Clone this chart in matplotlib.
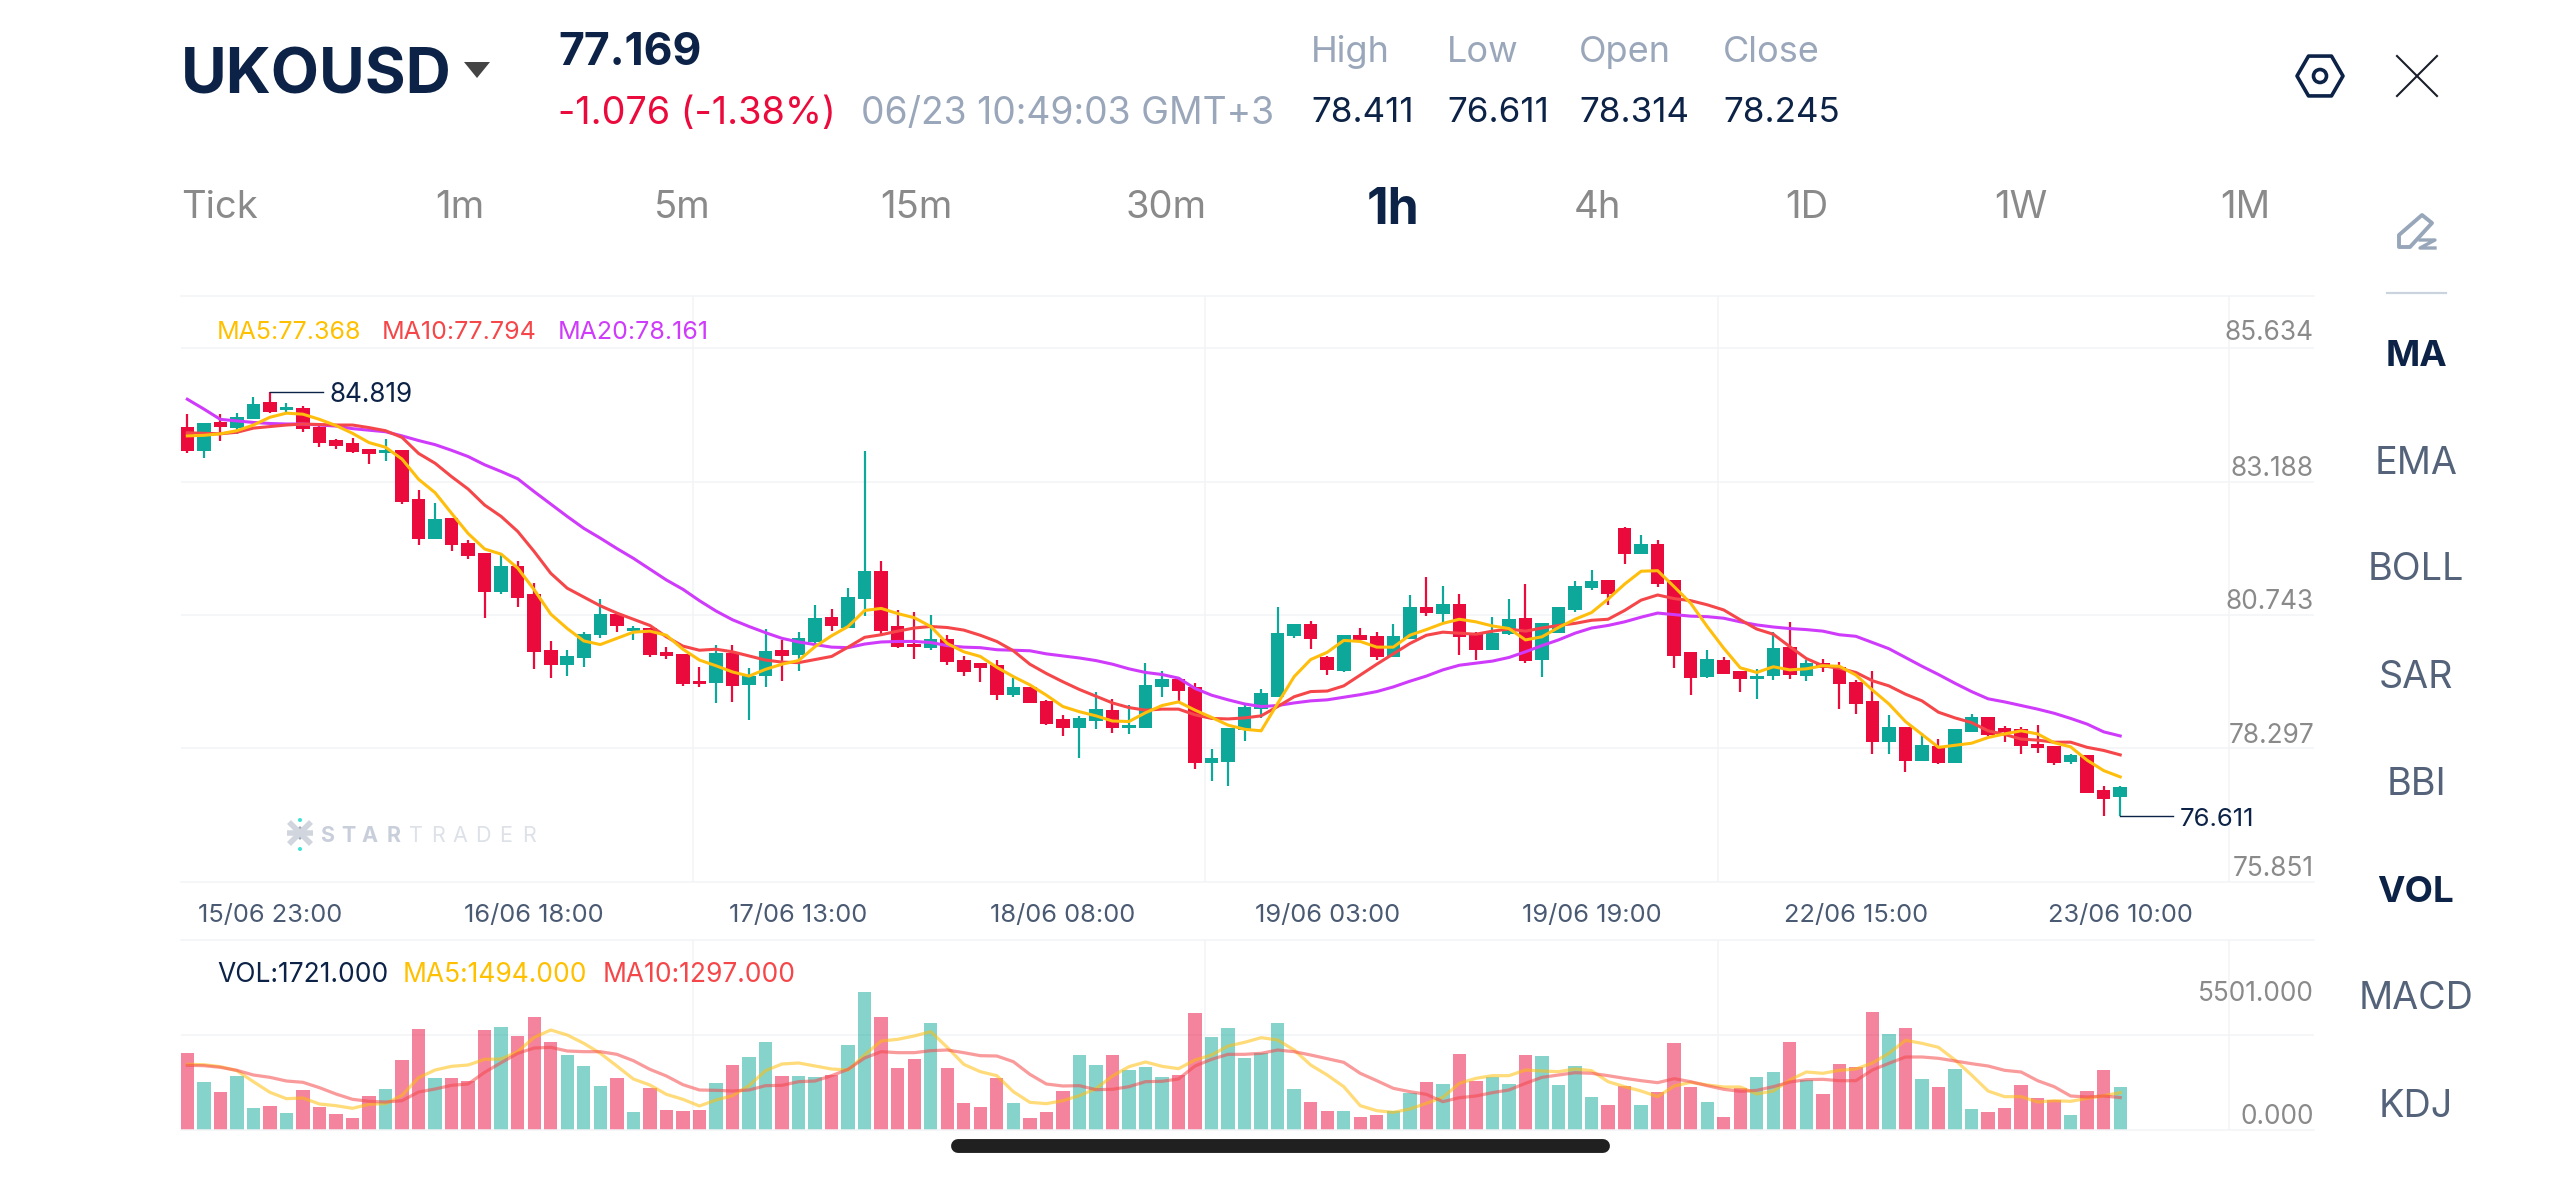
import numpy as np
import matplotlib
matplotlib.use("Agg")
import matplotlib.pyplot as plt
from matplotlib.patches import Polygon, RegularPolygon, Circle

plt.rcParams['font.family'] = ['Inter', 'DejaVu Sans']

opens = [84.15,83.68,84.23,84.13,84.30,84.62,84.48,84.51,84.15,83.89,83.83,83.71,83.64,83.69,82.74,81.97,82.38,81.89,81.70,80.95,
         81.46,80.90,79.83,79.54,79.67,80.11,80.52,80.20,80.26,79.79,79.75,79.23,79.18,79.77,79.15,79.32,79.82,79.72,79.97,80.46,
         80.26,80.82,81.36,80.28,79.94,79.86,80.04,79.63,79.57,79.53,78.96,79.11,78.84,78.48,78.32,78.45,78.66,78.32,78.31,79.10,
         79.27,79.11,77.63,77.66,78.28,78.69,78.92,80.10,80.32,79.69,79.42,80.12,80.09,79.68,80.04,80.66,80.52,80.71,80.13,79.82,
         80.13,80.44,79.63,80.15,80.59,81.03,81.18,82.19,81.69,81.88,81.18,79.78,79.30,79.64,79.41,79.26,79.32,79.88,79.33,79.57,
         79.50,79.21,78.83,78.05,78.34,77.68,77.97,77.63,78.24,78.52,78.31,78.29,78.00,77.97,77.66,77.80,77.11,76.97]
highs = [84.39,84.21,84.39,84.41,84.73,84.819,84.61,84.55,84.18,83.90,83.92,83.71,83.91,83.69,82.92,82.68,82.38,81.95,81.70,81.70,
         81.55,81.13,79.99,79.83,80.18,80.82,80.52,80.28,80.26,79.89,79.75,79.49,79.92,79.92,79.47,80.23,80.01,80.17,80.70,80.62,
         81.02,83.68,81.55,80.60,80.57,80.50,80.11,79.71,79.57,79.63,79.29,79.11,78.86,78.56,78.55,79.02,78.87,78.76,79.58,79.41,
         79.31,79.18,77.91,78.31,78.76,79.06,80.65,80.32,80.39,79.70,80.12,80.26,80.17,80.33,80.89,81.24,81.06,80.90,80.17,80.46,
         80.81,81.10,80.34,80.66,81.17,81.37,81.18,82.20,82.05,81.95,81.18,79.78,79.82,79.68,79.42,79.46,80.18,80.37,79.63,79.66,
         79.59,79.24,79.41,78.57,78.34,78.22,78.11,78.30,78.59,78.52,78.35,78.33,78.38,77.97,77.82,77.80,77.19,77.20]
lows = [83.63,83.55,83.87,84.00,84.30,84.42,84.42,84.04,83.76,83.72,83.64,83.42,83.48,82.66,81.85,81.97,81.74,81.58,80.44,80.91,
        80.65,79.46,79.28,79.32,79.49,80.06,80.17,80.02,79.68,79.66,79.13,79.10,78.79,78.82,78.47,79.10,79.23,79.42,79.95,80.19,
        80.26,80.49,80.13,79.86,79.66,79.83,79.53,79.33,79.21,78.86,78.91,78.79,78.38,78.16,77.73,78.29,78.22,78.19,78.31,78.91,
        78.84,77.53,77.29,77.19,78.07,78.50,78.92,80.06,79.84,79.34,79.39,80.01,79.63,79.68,80.04,80.48,80.36,79.73,79.64,79.82,
        80.12,79.57,79.30,80.15,80.57,80.99,80.69,81.49,81.68,81.04,79.48,78.95,79.28,79.36,79.02,78.87,79.24,79.26,79.22,79.39,
        78.68,78.59,77.82,77.81,77.47,77.68,77.62,77.63,78.24,78.16,78.05,77.82,77.84,77.60,77.62,77.05,76.62,76.611]
closes = [83.68,84.21,84.15,84.34,84.59,84.43,84.53,84.10,83.83,83.77,83.66,83.62,83.70,82.69,81.97,82.37,81.86,81.64,80.94,81.46,
          80.84,79.79,79.54,79.70,80.13,80.52,80.29,80.26,79.73,79.70,79.17,79.17,79.77,79.13,79.32,79.81,79.71,80.06,80.45,80.28,
          80.86,81.35,80.20,79.88,79.88,80.03,79.60,79.39,79.48,78.95,79.10,78.79,78.39,78.31,78.50,78.68,78.31,78.37,79.14,79.26,
          79.03,77.63,77.73,78.31,78.73,78.99,80.15,80.32,80.03,79.44,80.12,80.01,79.68,80.09,80.66,80.55,80.71,80.08,79.82,80.15,
          80.43,79.61,80.34,80.66,81.07,81.16,80.91,81.69,81.87,81.10,79.71,79.29,79.65,79.36,79.26,79.33,79.86,79.34,79.58,79.47,
          79.17,78.78,78.04,78.34,77.68,77.99,77.63,78.29,78.53,78.18,78.23,77.97,77.93,77.64,77.80,77.06,76.94,77.169]

ma5 = [83.97,83.98,84.01,84.07,84.18,84.33,84.41,84.39,84.29,84.17,84.02,83.84,83.75,83.52,83.13,82.87,82.47,82.08,81.78,81.68,
       81.41,80.99,80.52,80.24,80.00,79.93,80.05,80.17,80.19,80.11,79.84,79.63,79.52,79.40,79.32,79.45,79.55,79.62,79.89,80.10,
       80.28,80.59,80.63,80.53,80.45,80.28,79.95,79.79,79.70,79.49,79.31,79.15,78.95,78.73,78.63,78.55,78.45,78.44,78.61,78.75,
       78.82,78.66,78.52,78.37,78.29,78.26,78.79,79.31,79.64,79.78,80.01,79.99,79.88,79.88,80.11,80.22,80.34,80.42,80.37,80.29,
       80.24,80.02,80.08,80.26,80.42,80.55,80.81,81.10,81.35,81.36,81.05,80.73,80.28,79.86,79.48,79.39,79.50,79.44,79.46,79.52,
       79.51,79.34,79.05,78.78,78.44,78.19,77.94,77.98,78.02,78.13,78.20,78.26,78.20,78.03,77.95,77.69,77.49,77.368]
ma10 = [84.03,84.02,84.01,84.04,84.12,84.15,84.18,84.20,84.19,84.18,84.18,84.13,84.07,83.94,83.63,83.44,83.18,82.94,82.63,82.41,
        82.12,81.73,81.31,81.02,80.85,80.68,80.54,80.42,80.30,80.08,79.90,79.82,79.84,79.79,79.71,79.63,79.59,79.58,79.64,79.70,
        79.88,80.07,80.12,80.19,80.25,80.28,80.26,80.21,80.11,79.99,79.81,79.55,79.37,79.21,79.06,78.93,78.80,78.71,78.66,78.68,
        78.68,78.57,78.50,78.49,78.51,78.55,78.73,78.92,79.02,79.03,79.13,79.34,79.55,79.75,79.95,80.11,80.17,80.15,80.13,80.19,
        80.23,80.19,80.25,80.30,80.34,80.40,80.42,80.59,80.79,80.89,80.82,80.78,80.70,80.60,80.41,80.23,80.13,79.89,79.66,79.52,
        79.47,79.39,79.23,79.13,78.97,78.84,78.62,78.51,78.42,78.26,78.19,78.10,78.08,78.04,78.04,77.94,77.88,77.794]
ma20 = [84.68,84.49,84.29,84.26,84.23,84.21,84.20,84.20,84.18,84.16,84.11,84.08,84.05,83.97,83.88,83.80,83.69,83.57,83.41,83.28,
        83.14,82.89,82.65,82.41,82.18,81.99,81.79,81.60,81.39,81.18,81.00,80.78,80.58,80.41,80.28,80.16,80.05,79.98,79.93,79.88,
        79.87,79.94,79.98,79.99,79.99,79.97,79.91,79.88,79.87,79.83,79.82,79.81,79.75,79.71,79.67,79.62,79.55,79.46,79.39,79.35,
        79.28,79.08,78.95,78.86,78.78,78.73,78.75,78.80,78.84,78.86,78.91,78.96,79.02,79.11,79.22,79.32,79.44,79.53,79.57,79.61,
        79.68,79.79,79.91,80.02,80.15,80.25,80.30,80.37,80.46,80.54,80.51,80.48,80.47,80.44,80.37,80.31,80.27,80.24,80.22,80.19,
        80.12,80.09,79.97,79.85,79.68,79.51,79.35,79.18,79.02,78.88,78.82,78.75,78.68,78.60,78.50,78.39,78.24,78.161]

volumes = [3066,1906,1506,2173,893,960,693,1600,933,627,493,1360,1640,2800,4040,2080,2067,1947,4000,4107,
           3747,4520,3533,3013,2560,1760,2080,707,1680,813,760,787,1867,2613,2933,3507,2147,2173,2120,2187,
           3387,5501,4507,2480,2827,4267,2467,1080,920,2093,1080,467,707,1547,2987,2600,3000,2400,2507,2107,
           2200,4680,3707,4067,2880,3067,4293,1640,1120,760,773,507,600,773,1467,1907,1827,3040,1947,2107,
           1853,3000,2947,1800,2560,1320,1013,1747,1000,1520,3493,1733,1120,520,1680,2107,2307,3507,2000,1453,
           2653,2520,4733,3827,4067,2040,1733,2453,827,720,867,1800,1267,1187,600,1547,2387,1721]
vol_ma5 = [2627,2613,2533,2373,1933,1507,1253,1280,1040,973,867,1027,1053,1387,2093,2400,2547,2600,2827,2840,
           3133,3707,4000,3800,3467,3067,2560,2040,1800,1427,1227,960,1200,1373,1773,2373,2640,2680,2560,2440,
           2400,3000,3560,3627,3760,3933,3307,2627,2333,2173,1533,1107,1053,1173,1373,1653,2160,2533,2720,2547,
           2453,2800,3000,3360,3507,3693,3600,3200,2600,2200,1733,973,773,707,840,1067,1307,1867,2067,2173,
           2173,2400,2360,2333,2440,2373,1933,1733,1560,1333,1760,1907,1800,1720,1720,1440,1560,2000,2320,2267,
           2387,2440,2680,3067,3587,3467,3307,2800,2200,1560,1333,1333,1120,1173,1147,1267,1373,1494]
vol_ma10 = [2587,2573,2507,2387,2200,2107,1960,1907,1693,1440,1227,1147,1120,1173,1520,1640,1787,1840,2307,2693,
            3067,3280,3307,3160,3133,3133,3027,2773,2427,2160,1813,1600,1587,1560,1600,1773,1787,1933,1960,2173,
            2427,2880,3133,3093,3093,3173,3200,3093,2973,2960,2733,2227,1840,1760,1773,1613,1627,1733,1933,1947,
            2040,2560,2827,3027,3027,3067,3200,3133,3000,2853,2707,2267,1973,1667,1533,1427,1133,1293,1360,1493,
            1600,1867,2107,2200,2293,2267,2173,2067,1973,1893,2053,1933,1773,1627,1547,1587,1733,1920,2013,2027,
            1973,1973,2400,2667,2920,2920,2867,2760,2653,2560,2387,2320,1973,1733,1360,1320,1360,1297]

date_idx = [5, 21, 37, 53, 69, 85, 101, 117]
date_labels = ["15/06 23:00", "16/06 18:00", "17/06 13:00", "18/06 08:00",
               "19/06 03:00", "19/06 19:00", "22/06 15:00", "23/06 10:00"]
period_labels = ["Tick", "1m", "5m", "15m", "30m", "1h", "4h", "1D", "1W", "1M"]
indicator_labels = ["MA", "EMA", "BOLL", "SAR", "BBI", "VOL", "MACD", "KDJ"]
price_labels = ["85.634", "83.188", "80.743", "78.297", "75.851"]
vol_labels = ["5501.000", "0.000"]

NAVY = "#0C2347"
RED = "#EB0A3C"
GREEN = "#0EA89A"
YELLOW = "#FFBE0B"
CORAL = "#F5474A"
PURPLE = "#CF3BFA"
GRID = "#F3F4F6"
GREY = "#8A8A8A"
SLATE = "#9AA7BA"
MUTED = "#54637A"

W, H = 2560, 1177
fig = plt.figure(figsize=(W / 100, H / 100), dpi=100, facecolor="white")


def panel(left, top, right, bottom):
    return fig.add_axes([left / W, 1 - bottom / H, (right - left) / W, (bottom - top) / H])


x = np.arange(len(closes))
x_limits = (-0.381, 128.73)
grid_idx = [30.63, 61.63, 92.65, 123.6]

ax = panel(181, 296, 2314, 881.6)
vol = panel(181, 940, 2314, 1130)

for a in (ax, vol):
    a.set_xlim(*x_limits)
    a.set_xticks(grid_idx, minor=True)
    a.grid(True, which="minor", axis="x", color=GRID, lw=1.1, zorder=0)
    a.set_axisbelow(True)
    a.tick_params(which="both", length=0)
    a.tick_params(axis="y", labelleft=False)
    for side in ("left", "right"):
        a.spines[side].set_visible(False)
    for side in ("top", "bottom"):
        a.spines[side].set_color(GRID)
        a.spines[side].set_linewidth(1.1)

# candles
ax.set_ylim(75.341, 86.678)
ax.set_yticks([85.671, 83.082, 80.502, 77.921])
ax.grid(True, which="major", axis="y", color=GRID, lw=1.1, zorder=0)
ax.set_xticks(date_idx, labels=date_labels, fontsize=18.3)
ax.tick_params(axis="x", pad=16, labelcolor="#4A5A73")

colors = [GREEN if c > o else RED for o, c in zip(opens, closes)]
ax.vlines(x, lows, highs, colors=colors, lw=1.6, zorder=2)
for i in x:
    bottom = min(opens[i], closes[i])
    height = max(abs(closes[i] - opens[i]), 0.04)
    ax.bar(i, height, bottom=bottom, width=0.82, color=colors[i], zorder=3)

ax.plot(x, ma20, color=PURPLE, lw=2.2, zorder=4, solid_joinstyle="round")
ax.plot(x, ma10, color=CORAL, lw=2.2, zorder=5, solid_joinstyle="round")
ax.plot(x, ma5, color=YELLOW, lw=2.2, zorder=6, solid_joinstyle="round")

# high / low callouts
ax.plot([5, 8.2], [84.819, 84.819], color=NAVY, lw=1, zorder=6)
ax.annotate("84.819", (8.6, 84.819), xytext=(0, -2.5), textcoords="offset points",
            color=NAVY, fontsize=18.8, va="center", ha="left")
ax.plot([117, 120.2], [76.611, 76.611], color=NAVY, lw=1, zorder=6)
ax.annotate("76.611", (120.6, 76.611), xytext=(0, -2.5), textcoords="offset points",
            color=NAVY, fontsize=18.5, va="center", ha="left")

# volume
vol.set_ylim(0, 7600)
vol.set_yticks([3800])
vol.grid(True, which="major", axis="y", color=GRID, lw=1.1, zorder=0)
vol.set_xticks([])
vol.bar(x, volumes, width=0.81, color=colors, alpha=0.5, zorder=2)
vol.plot(x, vol_ma5, color=YELLOW, lw=2.3, alpha=0.55, zorder=3)
vol.plot(x, vol_ma10, color=CORAL, lw=2.3, alpha=0.55, zorder=4)

# everything around the plots is placed in pixel units
ui = fig.add_axes([0, 0, 1, 1], facecolor="none")
ui.set_xlim(0, W)
ui.set_ylim(H, 0)
ui.axis("off")


def label(px, py, s, color=NAVY, size=14, weight="normal", ha="left"):
    # matplotlib centres on the line box, so nudge down to centre the glyphs
    ui.text(px, py + 0.2 * size, s, color=color, fontsize=size, fontweight=weight,
            ha=ha, va="center")


# header
label(181, 68, "UKOUSD", size=45, weight="bold")
ui.add_patch(Polygon([(464, 62), (490, 62), (477, 78)], closed=True, color="#444444", lw=0))
label(558, 47, "77.169", size=32, weight="bold")
label(558, 109, "-1.076 (-1.38%)", color=RED, size=27.2)
label(861, 109, "06/23 10:49:03 GMT+3", color=SLATE, size=26.8)

stat_x = [1311, 1447, 1579, 1723]
stat_names = ["High", "Low", "Open", "Close"]
stat_values = ["78.411", "76.611", "78.314", "78.245"]
for sx, n, v in zip(stat_x, stat_names, stat_values):
    label(sx, 47, n, color=SLATE, size=26)
    label(sx, 108, v, size=25.2)

# period tabs
period_x = [181, 460, 682, 916, 1166, 1393, 1598, 1807, 2021, 2245]
for i, (px, s) in enumerate(zip(period_x, period_labels)):
    if s == "1h":
        label(px, 203, s, size=36, weight="bold", ha="center")
    else:
        label(px, 203, s, color=GREY, size=27.5, ha="left" if i == 0 else "center")

# indicator column
ind_y = [351, 459, 565, 673, 780, 887, 994, 1102]
for py, s in zip(ind_y, indicator_labels):
    if s in ("MA", "VOL"):
        label(2416, py, s, size=26.5, weight="bold", ha="center")
    else:
        label(2416, py, s, color=MUTED, size=27.2, ha="center")
ui.plot([2387, 2446], [293, 293], color="#CBD3DF", lw=1.6)

# legends
label(217, 329, "MA5:77.368", color="#FFC000", size=18)
label(382, 329, "MA10:77.794", color=CORAL, size=18)
label(558, 329, "MA20:78.161", color=PURPLE, size=18)
label(217, 971, "VOL:1721.000", size=19)
label(403, 971, "MA5:1494.000", color="#FFC000", size=19)
label(603, 971, "MA10:1297.000", color=CORAL, size=19)

# right axis labels
for py, s in zip([329, 465, 598, 732, 865], price_labels):
    label(2314, py, s, color=GREY, size=18.9, ha="right")
for py, s in zip([990, 1113], vol_labels):
    label(2314, py, s, color=GREY, size=18.9, ha="right")

# watermark
wm_x = [327, 348, 370, 394, 416, 438, 460, 483, 506, 529]
for i, (px, ch) in enumerate(zip(wm_x, "STARTRADER")):
    if i < 4:
        label(px, 833, ch, color="#C9CFDA", size=15.5, weight="bold", ha="center")
    else:
        label(px, 833, ch, color="#DDE1E8", size=15.5, ha="center")
ui.plot([289, 311], [822, 844], color="#D0D5DE", lw=4, solid_capstyle="butt")
ui.plot([289, 311], [844, 822], color="#D0D5DE", lw=4, solid_capstyle="butt")
ui.plot([287, 313], [833, 833], color="#D0D5DE", lw=4, solid_capstyle="butt")
ui.add_patch(Polygon([(300, 826), (307, 833), (300, 840), (293, 833)], closed=True, color="#9FA8B8", lw=0))
ui.add_patch(Circle((300, 820), 2, color="#3DE3D5", lw=0))
ui.add_patch(Circle((300, 849), 2, color="#3DE3D5", lw=0))

# toolbar icons
ui.add_patch(RegularPolygon((2320, 76), 6, radius=23, orientation=np.pi / 6,
                            fill=False, edgecolor=NAVY, lw=2.6, joinstyle="round"))
ui.add_patch(Circle((2320, 76), 6.5, fill=False, edgecolor=NAVY, lw=2.6))
ui.plot([2397, 2437], [56, 96], color="#1A1F2B", lw=1.5)
ui.plot([2397, 2437], [96, 56], color="#1A1F2B", lw=1.5)
ui.add_patch(Polygon([(2399, 247), (2399, 235), (2422, 215), (2432, 223), (2410, 247)],
                     closed=True, fill=False, edgecolor="#98A6BA", lw=2.8, joinstyle="round"))
ui.plot([2420, 2435, 2420, 2435], [240, 240, 248, 248], color="#98A6BA", lw=2.4)

# home indicator
ui.plot([958, 1603], [1146, 1146], color="#202020", lw=10, solid_capstyle="round")

fig.savefig("out.png", dpi=100, facecolor="white")
